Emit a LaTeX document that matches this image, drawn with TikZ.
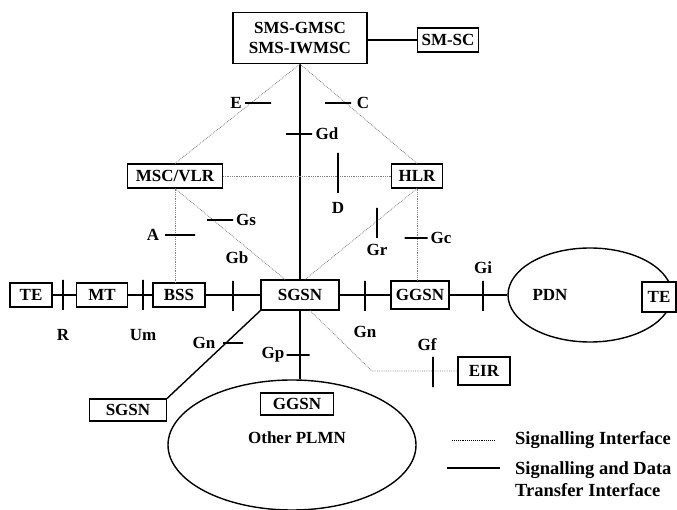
\documentclass[tikz,border=0pt]{standalone}
\usepackage{fontspec}
\setmainfont{Liberation Serif}
\usetikzlibrary{positioning,shapes.geometric}

\newcommand{\gprsfont}{\fontsize{17}{20}\selectfont\bfseries}
\newcommand{\keyfont}{\fontsize{18.5}{22}\selectfont\bfseries}

\begin{document}
\begin{tikzpicture}[x=1pt, y=-1pt,
  box/.style={draw, line width=1.1pt, inner sep=0pt, minimum height=24pt,
              fill=white, font=\gprsfont},
  cloud/.style={ellipse, draw, line width=1.4pt, inner sep=0pt},
  lbl/.style={inner sep=0pt, font=\gprsfont},
  link/.style={line width=1.4pt},
  sig/.style={densely dotted, line width=0.8pt, black!50},
  vtick/.style={draw, line width=1.3pt, inner sep=0pt, minimum width=0pt,
                minimum height=30pt},
  htick/.style={draw, line width=1.3pt, inner sep=0pt, minimum height=0pt,
                minimum width=26pt}
]
\useasboundingbox (0,0) rectangle (677,510);

% core network
\node[box, minimum width=134pt, minimum height=51pt, align=center] (gmsc) at (300,38)
  {SMS-GMSC\\SMS-IWMSC};
\node[box, minimum width=61pt] (smsc) at (448,40) {SM-SC};
\node[box, minimum width=95pt] (msc) at (175,176) {MSC/VLR};
\node[box, minimum width=51pt] (hlr) at (417,176) {HLR};

% transmission row
\node[box, minimum width=42pt] (teA) at (31,295) {TE};
\node[box, minimum width=51pt] (mt) at (102,295) {MT};
\node[box, minimum width=52pt] (bss) at (179,295) {BSS};
\node[box, minimum width=78pt, minimum height=30pt] (sgsn) at (300,295) {SGSN};
\node[box, minimum width=58pt, minimum height=28pt] (ggsn) at (420,295) {GGSN};
\node[cloud, minimum width=164pt, minimum height=94pt] (pdn) at (590,295) {};
\node[lbl] (pdnlbl) at (550,295) {PDN};
\node[box, minimum width=34pt, minimum height=30pt] (teB) at (659,297) {TE};

% lower part
\node[box, minimum width=52pt, minimum height=28pt] (eir) at (484,371) {EIR};
\node[box, minimum width=77pt, minimum height=22pt] (sgsnB) at (128,410) {SGSN};
\node[cloud, minimum width=248pt, minimum height=130pt] (plmn) at (292,445) {};
\node[box, minimum width=73pt, minimum height=22pt] (ggsnB) at (297,404) {GGSN};
\node[lbl] (plmnlbl) at (297,438) {Other PLMN};

% data + signalling links
\draw[link] (smsc.west -| gmsc.east) -- (smsc.west);
\draw[link] (gmsc) -- (sgsn);
\draw[link] (teA) -- (mt) -- (bss) -- (sgsn) -- (ggsn) -- (pdn);
\draw[link] (sgsn.south west) -- (sgsnB.north east);
\draw[link] (sgsn.south) -- (sgsn.south |- plmn.north);

% signalling only
\coordinate (gfbend) at (372,371);
\draw[sig] (msc.north) -- (gmsc.south);
\draw[sig] (hlr.north) -- (gmsc.south);
\draw[sig] (msc) -- (hlr);
\draw[sig] (msc.south) -- ([xshift=-15pt]sgsn.north);
\draw[sig] (msc.south) -- (msc.south |- bss.north);
\draw[sig] (hlr.south) -- ([xshift=5pt]sgsn.north);
\draw[sig] (hlr.south) -- (hlr.south |- ggsn.north);
\draw[sig] ([xshift=10pt]sgsn.south) -- (gfbend) -- (eir);

% interface marks
\node[htick] (tE) at (258,103) {};
\node[lbl] at (236,103) {E};
\node[htick] (tC) at (338,103) {};
\node[lbl] at (363,103) {C};
\node[htick] (tGd) at (299,134) {};
\node[lbl] at (327,134) {Gd};
\node[vtick, minimum height=40pt] (tD) at (338,173) {};
\node[lbl] at (338,208) {D};
\node[htick] (tGs) at (220,220) {};
\node[lbl] at (246,220) {Gs};
\node[htick, minimum width=30pt] (tA) at (180,235) {};
\node[lbl] at (153,235) {A};
\node[vtick] (tGr) at (377,223) {};
\node[lbl] at (377,250) {Gr};
\node[htick, minimum width=23pt] (tGc) at (416,238) {};
\node[lbl] at (441,238) {Gc};
\node[vtick] (tR) at (63,295) {};
\node[lbl] at (63,335) {R};
\node[vtick] (tUm) at (143,295) {};
\node[lbl] at (143,335) {Um};
\node[vtick] (tGb) at (233,296) {};
\node[lbl] at (237,258) {Gb};
\node[vtick] (tGn) at (365,296) {};
\node[lbl] at (365,332) {Gn};
\node[vtick] (tGi) at (483,296) {};
\node[lbl] at (483,268) {Gi};
\node[htick, minimum width=20pt] (tGnB) at (233,343) {};
\node[lbl] at (204,343) {Gn};
\node[htick, minimum width=23pt] (tGp) at (298,355) {};
\node[lbl] at (273,355) {Gp};
\node[vtick] (tGf) at (433,372) {};
\node[lbl] at (427,345) {Gf};

% legend
\coordinate (sigA) at (452,440);
\coordinate (sigB) at (495,440);
\coordinate (datA) at (447,468);
\coordinate (datB) at (500,468);
\draw[densely dotted, line width=0.9pt] (sigA) -- (sigB);
\draw[link] (datA) -- (datB);
\node[lbl, anchor=west, font=\keyfont] (sigtxt) at (515,440) {Signalling Interface};
\node[lbl, anchor=west, align=left, font=\keyfont] (dattxt) at (515,479)
  {Signalling and Data\\Transfer Interface};
\end{tikzpicture}
\end{document}
